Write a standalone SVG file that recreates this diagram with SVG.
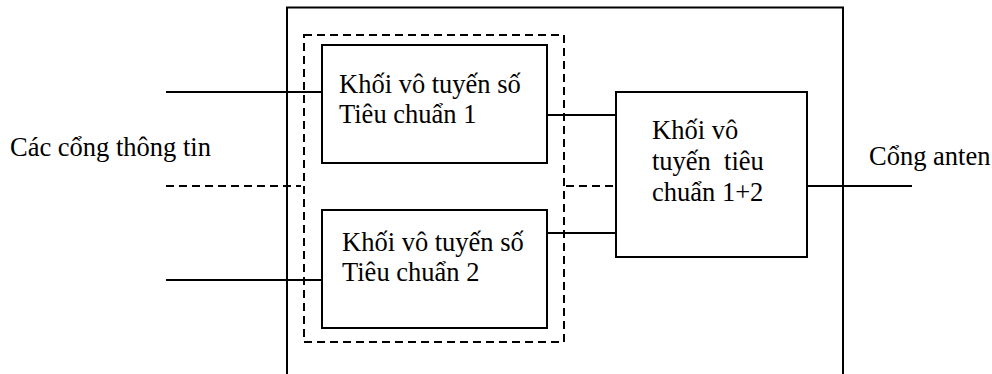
<svg xmlns="http://www.w3.org/2000/svg" width="992" height="374" viewBox="0 0 992 374">
<style>
.box{fill:none;stroke:#000;stroke-width:2}
.ln{fill:none;stroke:#000;stroke-width:2}
.dash{fill:none;stroke:#000;stroke-width:2;stroke-dasharray:8 5}
.t{font-family:'Liberation Serif','Times New Roman','DejaVu Serif',serif;font-size:26.5px;fill:#000}
</style>
<rect width="992" height="374" fill="#fff"/>
<g id="outer"><path class="box" d="M287,374 V7.5 H843 V374"/></g>
<g id="group-dashed"><rect class="dash" x="304" y="35" width="260" height="307"/></g>
<g id="block1"><rect class="box" x="322" y="45" width="225" height="118"/>
<text class="t" x="339" y="93">Khối vô tuyến số</text><text class="t" x="339" y="123">Tiêu chuẩn 1</text></g>
<g id="block2"><rect class="box" x="322" y="210" width="225" height="118"/>
<text class="t" x="342" y="251">Khối vô tuyến số</text><text class="t" x="342" y="281">Tiêu chuẩn 2</text></g>
<g id="block3"><rect class="box" x="616" y="92" width="191" height="165"/>
<text class="t" x="652" y="139">Khối vô</text><text class="t" x="652" y="170" xml:space="preserve">tuyến  tiêu</text><text class="t" x="652" y="201">chuẩn 1+2</text></g>
<g id="label-ports"><text class="t" x="10" y="156">Các cổng thông tin</text></g>
<g id="label-antenna"><text class="t" x="869" y="165">Cổng anten</text></g>
<g id="connectors">
<line class="ln" x1="166" y1="92" x2="322" y2="92"/>
<line class="dash" x1="166" y1="186" x2="301" y2="186"/>
<line class="ln" x1="166" y1="280" x2="322" y2="280"/>
<line class="ln" x1="547" y1="115" x2="616" y2="115"/>
<line class="ln" x1="547" y1="233" x2="616" y2="233"/>
<line class="dash" x1="566" y1="186" x2="616" y2="186"/>
<line class="ln" x1="807" y1="186" x2="912" y2="186"/>
</g>
</svg>
